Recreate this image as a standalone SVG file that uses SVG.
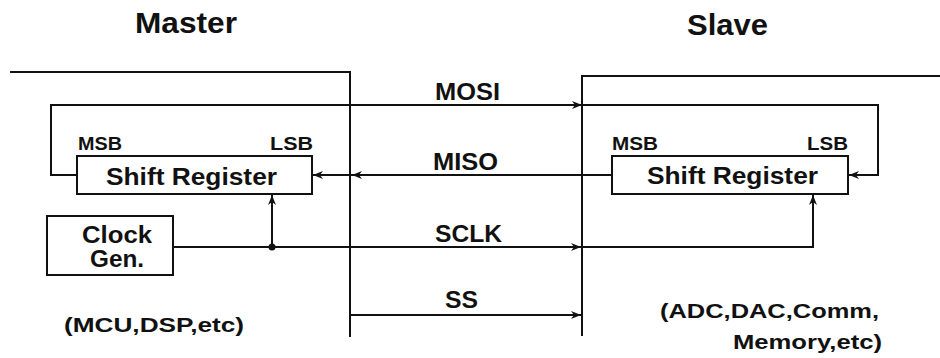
<svg xmlns="http://www.w3.org/2000/svg" width="940" height="358" viewBox="0 0 940 358">
<style>
.ln{fill:none;stroke:#111;stroke-width:2;stroke-linejoin:miter}
.box{fill:#fff;stroke:#111;stroke-width:2}
text{font-family:"Liberation Sans",Arial,sans-serif;font-weight:bold;fill:#111}
.t{font-size:29px}
.bit{font-size:18px}
.sr{font-size:23px}
.sig{font-size:23px}
.lbl{font-size:21px}
</style>
<defs>
<marker id="ah" markerUnits="userSpaceOnUse" markerWidth="12" markerHeight="10" refX="11" refY="5" orient="auto">
<path d="M1,1 L11,5 L1,9 L4,5 z" fill="#111"/>
</marker>
</defs>
<g id="master">
<text class="t" x="135" y="33" textLength="102" lengthAdjust="spacingAndGlyphs">Master</text>
<path class="ln" d="M10,72 H350 V337"/>
<text class="lbl" x="64" y="332" textLength="180" lengthAdjust="spacingAndGlyphs">(MCU,DSP,etc)</text>
</g>
<g id="slave">
<text class="t" x="687" y="35" textLength="81" lengthAdjust="spacingAndGlyphs">Slave</text>
<path class="ln" d="M940,76 H582 V336"/>
<text class="lbl" x="660" y="318" textLength="219" lengthAdjust="spacingAndGlyphs">(ADC,DAC,Comm,</text>
<text class="lbl" x="733" y="349" textLength="149" lengthAdjust="spacingAndGlyphs">Memory,etc)</text>
</g>
<g id="master-shift-register">
<rect class="box" x="77" y="156" width="235" height="38"/>
<text class="sr" x="106" y="185" textLength="171" lengthAdjust="spacingAndGlyphs">Shift Register</text>
<text class="bit" x="78" y="150" textLength="44" lengthAdjust="spacingAndGlyphs">MSB</text>
<text class="bit" x="270" y="150" textLength="43" lengthAdjust="spacingAndGlyphs">LSB</text>
</g>
<g id="slave-shift-register">
<rect class="box" x="612" y="156" width="236" height="38"/>
<text class="sr" x="647" y="184" textLength="171" lengthAdjust="spacingAndGlyphs">Shift Register</text>
<text class="bit" x="612" y="150" textLength="46" lengthAdjust="spacingAndGlyphs">MSB</text>
<text class="bit" x="807" y="150" textLength="41" lengthAdjust="spacingAndGlyphs">LSB</text>
</g>
<g id="clock-gen">
<rect class="box" x="47" y="216" width="126" height="59"/>
<text class="sr" x="82" y="243" textLength="70" lengthAdjust="spacingAndGlyphs">Clock</text>
<text class="sr" x="90" y="267" textLength="54" lengthAdjust="spacingAndGlyphs">Gen.</text>
</g>
<g id="connectors">
<path class="ln" d="M77,175 H51 V105 H582" marker-end="url(#ah)"/>
<path class="ln" d="M582,105 H878 V175 H849" marker-end="url(#ah)"/>
<text class="sig" x="435" y="100" textLength="65" lengthAdjust="spacingAndGlyphs">MOSI</text>
<path class="ln" d="M612,175 H352" marker-end="url(#ah)"/>
<path class="ln" d="M352,175 H313" marker-end="url(#ah)"/>
<text class="sig" x="433" y="170" textLength="65" lengthAdjust="spacingAndGlyphs">MISO</text>
<path class="ln" d="M173,247 H581" marker-end="url(#ah)"/>
<path class="ln" d="M581,247 H813 V195" marker-end="url(#ah)"/>
<path class="ln" d="M272,247 V195" marker-end="url(#ah)"/>
<circle cx="272" cy="247" r="3.5" fill="#111"/>
<text class="sig" x="435" y="242" textLength="67" lengthAdjust="spacingAndGlyphs">SCLK</text>
<path class="ln" d="M350,315 H581" marker-end="url(#ah)"/>
<text class="sig" x="445" y="308" textLength="33" lengthAdjust="spacingAndGlyphs">SS</text>
</g>
</svg>
